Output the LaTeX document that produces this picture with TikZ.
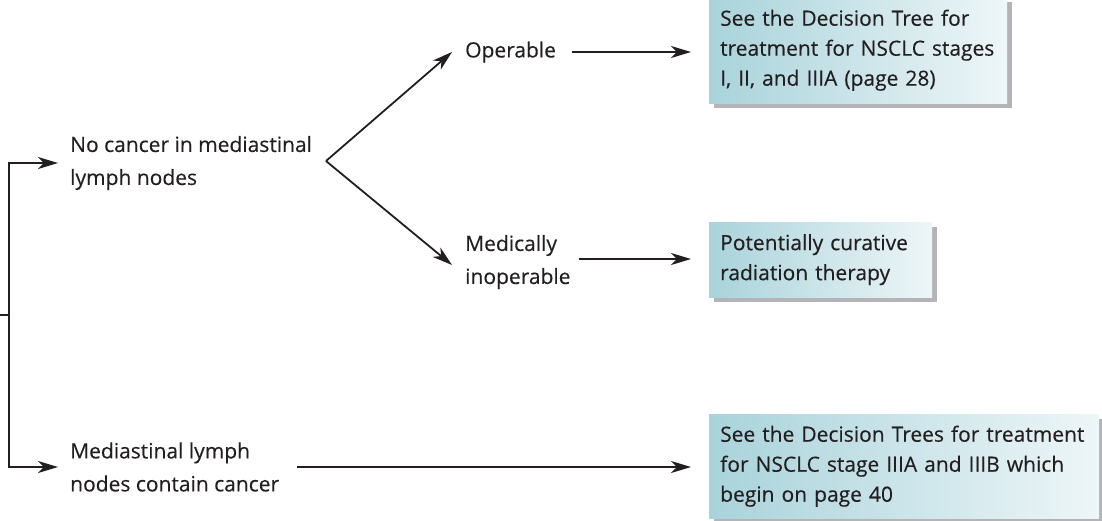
\documentclass[tikz,border=0pt]{standalone}
\usepackage{fontspec}
\setmainfont[FakeBold=0.3]{Open Sans}
\usetikzlibrary{arrows.meta,shadows}
\definecolor{ink}{HTML}{231F20}
\definecolor{tealL}{HTML}{A9D3DB}
\definecolor{tealR}{HTML}{EEF6F8}
\definecolor{shade}{HTML}{B4B4B8}
\begin{document}
\begin{tikzpicture}[x=1pt,y=-1pt,
  lbl/.style={font=\fontsize{21}{33}\selectfont, text=ink, inner sep=0pt, anchor=west, align=left},
  outcome/.style={font=\fontsize{21}{30}\selectfont, text=ink, anchor=north west, align=left,
    inner xsep=11pt, inner ysep=0pt, left color=tealL, right color=tealR, draw=none,
    drop shadow={shadow xshift=5pt, shadow yshift=-5pt, fill=shade, opacity=1}},
  arr/.style={draw=ink, line width=1.8pt, -{Stealth[length=20pt,width=12pt,inset=6pt]}},
  ln/.style={draw=ink, line width=1.8pt}]
\useasboundingbox (0,0) rectangle (1102,520);

% outcome boxes
\node[outcome, text width=276pt, minimum height=106pt] (tree1) at (709,-3)
  {See the Decision Tree for\\treatment for NSCLC stages\\I, II, and IIIA (page 28)};
\node[outcome, text width=201pt, minimum height=75pt] (radio) at (709,222)
  {Potentially curative\\radiation therapy};
\node[outcome, text width=368pt, minimum height=104pt] (tree2) at (709,414)
  {See the Decision Trees for treatment\\for NSCLC stage IIIA and IIIB which\\begin on page 40};

% findings and options
\node[lbl] (clear) at (70,163) {No cancer in mediastinal\\lymph nodes};
\node[lbl] (spread) at (70,467) {Mediastinal lymph\\nodes contain cancer};
\node[lbl] (oper) at (465,52) {Operable};
\node[lbl] (inop) at (465,262) {Medically\\inoperable};

% branching lines
\coordinate (start) at (0,315);
\coordinate (trunk) at (9,315);
\coordinate (fork) at (326,161);
\draw[ln] (start) -- (trunk);
\draw[arr] (trunk) |- ([xshift=-12pt]clear.west);
\draw[arr] (trunk) |- ([xshift=-12pt]spread.west);
\draw[arr] (fork) -- ([xshift=-13pt]oper.west);
\draw[arr] (fork) -- ([xshift=-13pt,yshift=-3pt]inop.west);
\draw[arr] ([xshift=16pt]oper.east) -- ([xshift=-18pt]oper.east -| tree1.west);
\draw[arr] ([xshift=8pt,yshift=3pt]inop.east) -- ([xshift=-18pt,yshift=3pt]inop.east -| radio.west);
\draw[arr] ([xshift=18pt]spread.east) -- ([xshift=-18pt]spread.east -| tree2.west);
\end{tikzpicture}
\end{document}
